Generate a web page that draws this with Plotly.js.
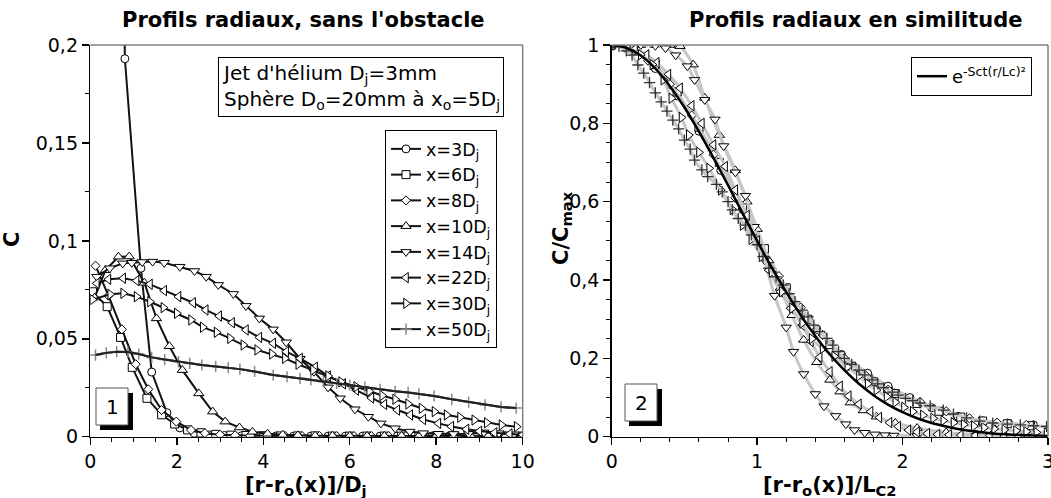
<!DOCTYPE html>
<html>
<head>
<meta charset="utf-8">
<script src="https://cdn.plot.ly/plotly-3.0.1.min.js"></script>
<style>html,body{margin:0;padding:0;background:#fff;}#plot{width:1051px;height:498px;}</style>
</head>
<body>
<div id="plot"></div>
<script>
// ---------- Left panel: C vs [r-ro(x)]/Dj ----------
const seriesNames = ['x=3D<sub>j</sub>','x=6D<sub>j</sub>','x=8D<sub>j</sub>','x=10D<sub>j</sub>','x=14D<sub>j</sub>','x=22D<sub>j</sub>','x=30D<sub>j</sub>','x=50D<sub>j</sub>'];

const x3 = [0.5, 0.8, 1.17, 1.42, 1.77, 2.07, 2.4, 2.75, 3.1, 3.5, 3.9, 4.3, 4.7, 5.1, 5.5, 5.9, 6.3, 6.7, 7.1, 7.5, 7.9, 8.3, 8.7, 9.1, 9.5, 9.9];
const y3 = [0.7, 0.193, 0.086, 0.033, 0.0123, 0.0045, 0.0018, 0.0009, 0.0006, 0.0005, 0.0004, 0.0004, 0.0003, 0.0003, 0.0003, 0.0003, 0.0003, 0.0003, 0.0003, 0.0003, 0.0003, 0.0003, 0.0003, 0.0003, 0.0003, 0.0003];

const x6 = [0.05, 0.39, 0.7, 0.97, 1.31, 1.65, 1.95, 2.25, 2.56, 2.9, 3.25, 3.6, 4.0, 4.4, 4.8, 5.2, 5.6, 6.0, 6.4, 6.8, 7.2, 7.6, 8.0, 8.4, 8.8, 9.2, 9.6, 10.0];
const y6 = [0.074, 0.0664, 0.0507, 0.0354, 0.0196, 0.0112, 0.0065, 0.0035, 0.002, 0.0012, 0.0008, 0.0006, 0.0005, 0.0004, 0.0004, 0.0004, 0.0003, 0.0003, 0.0003, 0.0003, 0.0003, 0.0003, 0.0003, 0.0003, 0.0003, 0.0003, 0.0003, 0.0003];

const x8 = [0.12, 0.42, 0.73, 1.05, 1.34, 1.65, 1.99, 2.33, 2.65, 3.0, 3.35, 3.7, 4.1, 4.5, 4.9, 5.3, 5.7, 6.1, 6.5, 6.9, 7.3, 7.7, 8.1, 8.5, 8.9, 9.3, 9.7];
const y8 = [0.0873, 0.072, 0.0548, 0.037, 0.0242, 0.0136, 0.0077, 0.0034, 0.0018, 0.001, 0.0007, 0.0005, 0.0004, 0.0004, 0.0003, 0.0003, 0.0003, 0.0003, 0.0003, 0.0003, 0.0003, 0.0003, 0.0003, 0.0003, 0.0003, 0.0003, 0.0003];

const x10 = [0.1, 0.35, 0.65, 0.9, 1.25, 1.53, 1.83, 2.13, 2.51, 2.83, 3.12, 3.45, 3.75, 4.1, 4.45, 4.8, 5.2, 5.6, 6.0, 6.4, 6.8, 7.2, 7.6, 8.0, 8.4, 8.8, 9.2, 9.6, 10.0];
const y10 = [0.071, 0.085, 0.0919, 0.092, 0.0786, 0.0604, 0.0462, 0.034, 0.0221, 0.0128, 0.0077, 0.0047, 0.0025, 0.0015, 0.001, 0.0007, 0.0005, 0.0005, 0.0004, 0.0004, 0.0004, 0.0004, 0.0004, 0.0004, 0.0004, 0.0004, 0.0004, 0.0004, 0.0004];

const x14 = [0.15, 0.45, 0.75, 0.96, 1.2, 1.44, 1.71, 2.07, 2.41, 2.68, 2.96, 3.31, 3.6, 3.91, 4.23, 4.53, 4.85, 5.17, 5.5, 5.78, 6.12, 6.43, 6.72, 7.05, 7.39, 7.7, 8.05, 8.4, 8.75, 9.1, 9.45, 9.8];
const y14 = [0.0817, 0.086, 0.0885, 0.0888, 0.0892, 0.0894, 0.0888, 0.0868, 0.0846, 0.0817, 0.0775, 0.0729, 0.0668, 0.0604, 0.0548, 0.0482, 0.0398, 0.0332, 0.0252, 0.0196, 0.014, 0.0102, 0.0068, 0.0043, 0.0026, 0.0018, 0.0015, 0.0014, 0.0015, 0.0022, 0.0018, 0.0012];

const x22 = [0.15, 0.42, 0.76, 1.07, 1.38, 1.71, 2.04, 2.38, 2.67, 2.98, 3.28, 3.6, 3.91, 4.23, 4.53, 4.85, 5.2, 5.5, 5.85, 6.15, 6.5, 6.8, 7.1, 7.4, 7.7, 8.05, 8.35, 8.7, 9.0, 9.35, 9.7, 10.0];
const y22 = [0.0783, 0.0804, 0.0809, 0.0797, 0.0778, 0.0746, 0.0715, 0.0684, 0.0647, 0.0616, 0.0582, 0.0545, 0.0507, 0.0477, 0.0434, 0.040, 0.0355, 0.031, 0.027, 0.0238, 0.0198, 0.0165, 0.0136, 0.0111, 0.0088, 0.0068, 0.0052, 0.0038, 0.0028, 0.002, 0.0014, 0.001];

const x30 = [0.05, 0.46, 0.76, 1.07, 1.38, 1.69, 2.0, 2.33, 2.6, 2.92, 3.23, 3.54, 3.86, 4.2, 4.5, 4.81, 5.15, 5.5, 5.8, 6.15, 6.45, 6.75, 7.05, 7.35, 7.66, 7.96, 8.24, 8.55, 8.88, 9.17, 9.51, 9.86];
const y30 = [0.070, 0.0727, 0.0732, 0.0715, 0.0689, 0.0659, 0.063, 0.0596, 0.0559, 0.0533, 0.0502, 0.0468, 0.0443, 0.0422, 0.040, 0.037, 0.034, 0.031, 0.028, 0.0255, 0.0232, 0.021, 0.0191, 0.0167, 0.0145, 0.0128, 0.0111, 0.0099, 0.0085, 0.0071, 0.006, 0.0051];

const x50 = [0.12, 0.37, 0.61, 0.87, 1.12, 1.42, 1.72, 2.04, 2.3, 2.58, 2.9, 3.19, 3.46, 3.8, 4.23, 4.55, 4.85, 5.1, 5.39, 5.7, 6.0, 6.35, 6.7, 7.05, 7.35, 7.6, 7.95, 8.36, 8.75, 9.13, 9.5, 9.85];
const y50 = [0.0417, 0.0428, 0.0434, 0.0432, 0.0422, 0.0405, 0.0394, 0.0383, 0.0374, 0.0366, 0.0359, 0.0352, 0.0345, 0.0333, 0.0315, 0.0306, 0.0298, 0.029, 0.0281, 0.0272, 0.0264, 0.0253, 0.0242, 0.0232, 0.0226, 0.0219, 0.0208, 0.0191, 0.0177, 0.0162, 0.0152, 0.0146];

// ---------- Right panel: C/Cmax vs [r-ro(x)]/Lc2 ----------
const rx3 = [0, 0.15, 0.3, 0.45, 0.6, 0.75, 0.9, 1.05, 1.2, 1.41, 1.58, 1.76, 1.9, 2.05, 2.2, 2.38, 2.55, 2.73, 2.9];
const ry3 = [1, 0.985, 0.94, 0.87, 0.78, 0.68, 0.58, 0.47, 0.38, 0.274, 0.21, 0.162, 0.129, 0.1, 0.074, 0.052, 0.04, 0.034, 0.03];

const rx6 = [0, 0.15, 0.3, 0.45, 0.6, 0.74, 0.9, 1.05, 1.2, 1.35, 1.5, 1.65, 1.8, 1.95, 2.1, 2.25, 2.4, 2.55, 2.72, 2.88];
const ry6 = [1, 0.99, 0.95, 0.88, 0.79, 0.70, 0.59, 0.48, 0.38, 0.3, 0.235, 0.18, 0.14, 0.11, 0.085, 0.065, 0.05, 0.04, 0.033, 0.028];

const rx8 = [0, 0.12, 0.25, 0.4, 0.55, 0.7, 0.85, 1.0, 1.15, 1.3, 1.45, 1.6, 1.75, 1.9, 2.12, 2.3, 2.46, 2.65, 2.85];
const ry8 = [1, 0.99, 0.96, 0.9, 0.82, 0.72, 0.61, 0.5, 0.41, 0.33, 0.26, 0.2, 0.155, 0.12, 0.089, 0.065, 0.047, 0.036, 0.03];

const rx10 = [0, 0.1, 0.2, 0.3, 0.4, 0.47, 0.56, 0.64, 0.74, 0.85, 0.93, 1.0, 1.08, 1.16, 1.24, 1.32, 1.41, 1.5, 1.57, 1.64, 1.73, 1.82, 1.95, 2.1, 2.3, 2.5, 2.7, 2.9];
const ry10 = [1, 1, 1, 1, 1, 0.997, 0.95, 0.865, 0.77, 0.68, 0.6, 0.53, 0.45, 0.38, 0.31, 0.247, 0.19, 0.145, 0.115, 0.087, 0.067, 0.051, 0.035, 0.022, 0.011, 0.006, 0.004, 0.003];

const rx14 = [0, 0.1, 0.2, 0.3, 0.37, 0.44, 0.52, 0.57, 0.64, 0.71, 0.77, 0.85, 0.92, 0.98, 1.05, 1.12, 1.2, 1.25, 1.32, 1.4, 1.46, 1.54, 1.61, 1.67, 1.74, 1.81, 1.88, 1.94, 2.1, 2.3, 2.5, 2.7, 2.9];
const ry14 = [1, 1, 1, 0.998, 0.992, 0.974, 0.946, 0.911, 0.86, 0.81, 0.742, 0.675, 0.615, 0.536, 0.451, 0.36, 0.279, 0.217, 0.16, 0.109, 0.078, 0.053, 0.032, 0.017, 0.010, 0.006, 0.004, 0.003, 0.002, 0.001, 0.001, 0.001, 0.001];

const rx22 = [0, 0.08, 0.16, 0.24, 0.31, 0.39, 0.47, 0.55, 0.62, 0.7, 0.78, 0.85, 0.93, 1.0, 1.08, 1.16, 1.23, 1.31, 1.37, 1.43, 1.5, 1.57, 1.63, 1.7, 1.78, 1.84, 1.91, 1.97, 2.04, 2.1, 2.17, 2.24, 2.32, 2.4, 2.5, 2.6, 2.7, 2.8, 2.9, 3.0];
const ry22 = [1, 0.998, 0.99, 0.975, 0.955, 0.925, 0.89, 0.845, 0.8, 0.745, 0.69, 0.63, 0.565, 0.5, 0.425, 0.37, 0.328, 0.285, 0.243, 0.203, 0.166, 0.129, 0.104, 0.083, 0.064, 0.049, 0.036, 0.026, 0.017, 0.012, 0.008, 0.006, 0.005, 0.004, 0.003, 0.003, 0.002, 0.002, 0.002, 0.002];

const rx30 = [0, 0.1, 0.2, 0.28, 0.355, 0.41, 0.48, 0.53, 0.6, 0.67, 0.75, 0.83, 0.9, 0.96, 1.03, 1.1, 1.17, 1.24, 1.31, 1.375, 1.45, 1.53, 1.62, 1.7, 1.76, 1.82, 1.89, 1.95, 2.01, 2.07, 2.14, 2.21, 2.28, 2.35, 2.42, 2.49, 2.56, 2.63, 2.7, 2.78, 2.85, 2.92, 2.99];
const ry30 = [1, 0.995, 0.975, 0.95, 0.911, 0.864, 0.815, 0.77, 0.726, 0.685, 0.63, 0.58, 0.54, 0.504, 0.46, 0.42, 0.37, 0.328, 0.29, 0.25, 0.225, 0.205, 0.178, 0.155, 0.135, 0.119, 0.102, 0.088, 0.075, 0.064, 0.055, 0.047, 0.041, 0.036, 0.031, 0.027, 0.023, 0.02, 0.018, 0.015, 0.013, 0.011, 0.01];

const rx50 = [0, 0.05, 0.1, 0.14, 0.18, 0.22, 0.26, 0.3, 0.34, 0.38, 0.42, 0.46, 0.5, 0.54, 0.57, 0.62, 0.66, 0.72, 0.76, 0.8, 0.83, 0.87, 0.92, 0.96, 1.0, 1.04, 1.08, 1.13, 1.18, 1.22, 1.26, 1.31, 1.35, 1.39, 1.43, 1.48, 1.52, 1.56, 1.6, 1.65, 1.7, 1.74, 1.79, 1.83, 1.87, 1.93, 1.97, 2.02, 2.07, 2.12, 2.19, 2.28, 2.35, 2.44, 2.53, 2.62, 2.72, 2.81, 2.9, 2.99];
const ry50 = [1, 0.997, 0.985, 0.974, 0.949, 0.928, 0.904, 0.878, 0.855, 0.831, 0.808, 0.786, 0.757, 0.734, 0.706, 0.681, 0.664, 0.644, 0.625, 0.6, 0.579, 0.557, 0.54, 0.515, 0.49, 0.46, 0.43, 0.408, 0.387, 0.365, 0.345, 0.323, 0.306, 0.285, 0.268, 0.251, 0.234, 0.217, 0.2, 0.185, 0.17, 0.158, 0.145, 0.135, 0.125, 0.114, 0.106, 0.098, 0.092, 0.086, 0.079, 0.068, 0.058, 0.048, 0.04, 0.035, 0.032, 0.03, 0.028, 0.026];

// Gaussian reference curve e^{-Sct (r/Lc)^2}
const gx = [0, 0.1, 0.2, 0.3, 0.4, 0.5, 0.6, 0.7, 0.8, 0.9, 1.0, 1.1, 1.2, 1.3, 1.4, 1.5, 1.6, 1.7, 1.8, 1.9, 2.0, 2.1, 2.2, 2.3, 2.4, 2.5, 2.6, 2.7, 2.8, 2.9, 3.0];
const gy = [1, 0.993, 0.973, 0.940, 0.895, 0.841, 0.779, 0.712, 0.642, 0.570, 0.5, 0.432, 0.369, 0.310, 0.257, 0.210, 0.170, 0.135, 0.106, 0.082, 0.0625, 0.047, 0.035, 0.026, 0.0185, 0.013, 0.009, 0.0064, 0.0044, 0.003, 0.002];
const gaussLabel = 'e<sup>-Sct(r/Lc)²</sup>';

const leftX = [x3, x6, x8, x10, x14, x22, x30, x50];
const leftY = [y3, y6, y8, y10, y14, y22, y30, y50];
const rightX = [rx3, rx6, rx8, rx10, rx14, rx22, rx30, rx50];
const rightY = [ry3, ry6, ry8, ry10, ry14, ry22, ry30, ry50];
const symbols = ['circle', 'square', 'diamond', 'triangle-up', 'triangle-down', 'triangle-left', 'triangle-right', 'cross-thin'];
const sizes = [8, 8, 7, 9, 9, 9, 9, 8];

const traces = [];
for (let i = 0; i < 8; i++) {
  const isCross = symbols[i] === 'cross-thin';
  traces.push({
    x: leftX[i], y: leftY[i], xaxis: 'x', yaxis: 'y',
    type: 'scatter', mode: 'lines+markers', name: seriesNames[i],
    line: {color: '#111', width: 2},
    marker: {symbol: symbols[i], size: sizes[i], color: '#fff',
      line: {color: isCross ? '#888' : '#000', width: isCross ? 1.5 : 1}},
    legend: 'legend'
  });
  if (isCross) {
    // dark line drawn over the grey crosses, as in the reference
    traces.push({
      x: leftX[i], y: leftY[i], xaxis: 'x', yaxis: 'y', type: 'scatter', mode: 'lines',
      showlegend: false, line: {color: '#222', width: 2}
    });
  }
}
for (let i = 0; i < 8; i++) {
  const isCross = symbols[i] === 'cross-thin';
  traces.push({
    x: rightX[i], y: rightY[i], xaxis: 'x2', yaxis: 'y2',
    type: 'scatter', mode: 'lines+markers', showlegend: false,
    line: {color: '#c6c6c6', width: 3, shape: 'spline', smoothing: 0.6},
    marker: {symbol: symbols[i], size: sizes[i], color: '#fff',
      line: {color: isCross ? '#333' : '#000', width: isCross ? 1.3 : 1}}
  });
}
traces.push({
  x: gx, y: gy, xaxis: 'x2', yaxis: 'y2', type: 'scatter', mode: 'lines',
  name: gaussLabel, line: {color: '#000', width: 2.5, shape: 'spline'},
  legend: 'legend2'
});

const FONT = 'DejaVu Sans, Verdana, sans-serif';
const tickFont = {family: FONT, size: 19, color: '#000'};
function axis(extra) {
  return Object.assign({
    showgrid: false, zeroline: false, showline: true, linecolor: '#000', linewidth: 1.5,
    ticks: 'outside', ticklen: 7, tickwidth: 1.5, tickcolor: '#000', tickfont: tickFont,
    ticklabeloverflow: 'allow', fixedrange: true
  }, extra);
}
const yDom = [1 - 436.7 / 498, 1 - 45 / 498];
const frameLine = {color: '#808080', width: 1.5};

const layout = {
  width: 1051, height: 498,
  margin: {l: 0, r: 0, t: 0, b: 0},
  paper_bgcolor: '#fff', plot_bgcolor: '#fff',
  separators: ', ',
  font: {family: FONT, color: '#000'},
  xaxis: axis({domain: [90.3 / 1051, 522.7 / 1051], range: [0, 10], tick0: 0, dtick: 2, anchor: 'y',
    minor: {dtick: 0.5, ticks: 'outside', ticklen: 4, tickcolor: '#000', tickwidth: 1}}),
  yaxis: axis({domain: yDom, range: [0, 0.2], tick0: 0, dtick: 0.05, anchor: 'x',
    minor: {dtick: 0.025, ticks: 'outside', ticklen: 4, tickcolor: '#000', tickwidth: 1}}),
  xaxis2: axis({domain: [611.7 / 1051, 1048 / 1051], range: [0, 3], tick0: 0, dtick: 1, anchor: 'y2',
    minor: {dtick: 0.2, ticks: 'outside', ticklen: 4, tickcolor: '#000', tickwidth: 1}}),
  yaxis2: axis({domain: yDom, range: [0, 1], tick0: 0, dtick: 0.2, anchor: 'x2',
    minor: {dtick: 0.05, ticks: 'outside', ticklen: 4, tickcolor: '#000', tickwidth: 1}}),
  legend: {x: 385 / 1051, y: 1 - 130 / 498, xanchor: 'left', yanchor: 'top',
    bgcolor: '#fff', bordercolor: '#000', borderwidth: 1,
    font: {family: FONT, size: 17.5, color: '#000'}, tracegroupgap: 0, itemwidth: 30},
  legend2: {x: 911 / 1051, y: 1 - 57 / 498, xanchor: 'left', yanchor: 'top',
    bgcolor: '#fff', bordercolor: '#000', borderwidth: 1,
    font: {family: FONT, size: 18, color: '#000'}, itemwidth: 30},
  shapes: [
    {type: 'line', xref: 'x domain', yref: 'y domain', x0: 0, x1: 1, y0: 1, y1: 1, line: frameLine},
    {type: 'line', xref: 'x domain', yref: 'y domain', x0: 1, x1: 1, y0: 0, y1: 1, line: frameLine},
    {type: 'line', xref: 'x2 domain', yref: 'y2 domain', x0: 0, x1: 1, y0: 1, y1: 1, line: frameLine},
    {type: 'line', xref: 'x2 domain', yref: 'y2 domain', x0: 1, x1: 1, y0: 0, y1: 1, line: frameLine},
    // panel label boxes with shadow
    {type: 'rect', xref: 'paper', yref: 'paper', x0: 100 / 1051, x1: 133 / 1051, y0: 1 - 430 / 498, y1: 1 - 393 / 498,
      fillcolor: '#000', line: {width: 0}, layer: 'above'},
    {type: 'rect', xref: 'paper', yref: 'paper', x0: 96 / 1051, x1: 128 / 1051, y0: 1 - 425 / 498, y1: 1 - 388 / 498,
      fillcolor: '#fff', line: {color: '#555', width: 1}, layer: 'above'},
    {type: 'rect', xref: 'paper', yref: 'paper', x0: 629 / 1051, x1: 662 / 1051, y0: 1 - 426 / 498, y1: 1 - 389 / 498,
      fillcolor: '#000', line: {width: 0}, layer: 'above'},
    {type: 'rect', xref: 'paper', yref: 'paper', x0: 625 / 1051, x1: 657 / 1051, y0: 1 - 421 / 498, y1: 1 - 384 / 498,
      fillcolor: '#fff', line: {color: '#555', width: 1}, layer: 'above'}
  ],
  annotations: [
    {text: '<b>Profils radiaux, sans l\'obstacle</b>', xref: 'paper', yref: 'paper', x: 303 / 1051, y: 1 - 20 / 498,
      showarrow: false, font: {family: FONT, size: 21}, xanchor: 'center', yanchor: 'middle'},
    {text: '<b>Profils radiaux en similitude</b>', xref: 'paper', yref: 'paper', x: 855 / 1051, y: 1 - 20 / 498,
      showarrow: false, font: {family: FONT, size: 21}, xanchor: 'center', yanchor: 'middle'},
    {text: '<b>[r-r<sub>o</sub>(x)]/D<sub>j</sub></b>', xref: 'paper', yref: 'paper', x: 306 / 1051, y: 1 - 486 / 498,
      showarrow: false, font: {family: FONT, size: 21}, xanchor: 'center', yanchor: 'middle'},
    {text: '<b>[r-r<sub>o</sub>(x)]/L<sub>C2</sub></b>', xref: 'paper', yref: 'paper', x: 830 / 1051, y: 1 - 486 / 498,
      showarrow: false, font: {family: FONT, size: 21}, xanchor: 'center', yanchor: 'middle'},
    {text: '<b>C</b>', xref: 'paper', yref: 'paper', x: 12 / 1051, y: 1 - 240 / 498, textangle: -90,
      showarrow: false, font: {family: FONT, size: 21}, xanchor: 'center', yanchor: 'middle'},
    {text: '<b>C/C<sub>max</sub></b>', xref: 'paper', yref: 'paper', x: 562 / 1051, y: 1 - 228 / 498, textangle: -90,
      showarrow: false, font: {family: FONT, size: 21}, xanchor: 'center', yanchor: 'middle'},
    {text: 'Jet d\'hélium D<sub>j</sub>=3mm<br>Sphère D<sub>o</sub>=20mm à x<sub>o</sub>=5D<sub>j</sub>',
      xref: 'paper', yref: 'paper', x: 218 / 1051, y: 1 - 57 / 498, xanchor: 'left', yanchor: 'top', align: 'left',
      showarrow: false, font: {family: FONT, size: 20}, bgcolor: '#fff', bordercolor: '#000', borderwidth: 1, borderpad: 3},
    {text: '1', xref: 'paper', yref: 'paper', x: 112 / 1051, y: 1 - 407 / 498, showarrow: false,
      font: {family: FONT, size: 20}, xanchor: 'center', yanchor: 'middle'},
    {text: '2', xref: 'paper', yref: 'paper', x: 641 / 1051, y: 1 - 403 / 498, showarrow: false,
      font: {family: FONT, size: 20}, xanchor: 'center', yanchor: 'middle'}
  ]
};

Plotly.newPlot('plot', traces, layout, {displayModeBar: false, staticPlot: true});
</script>
</body>
</html>
